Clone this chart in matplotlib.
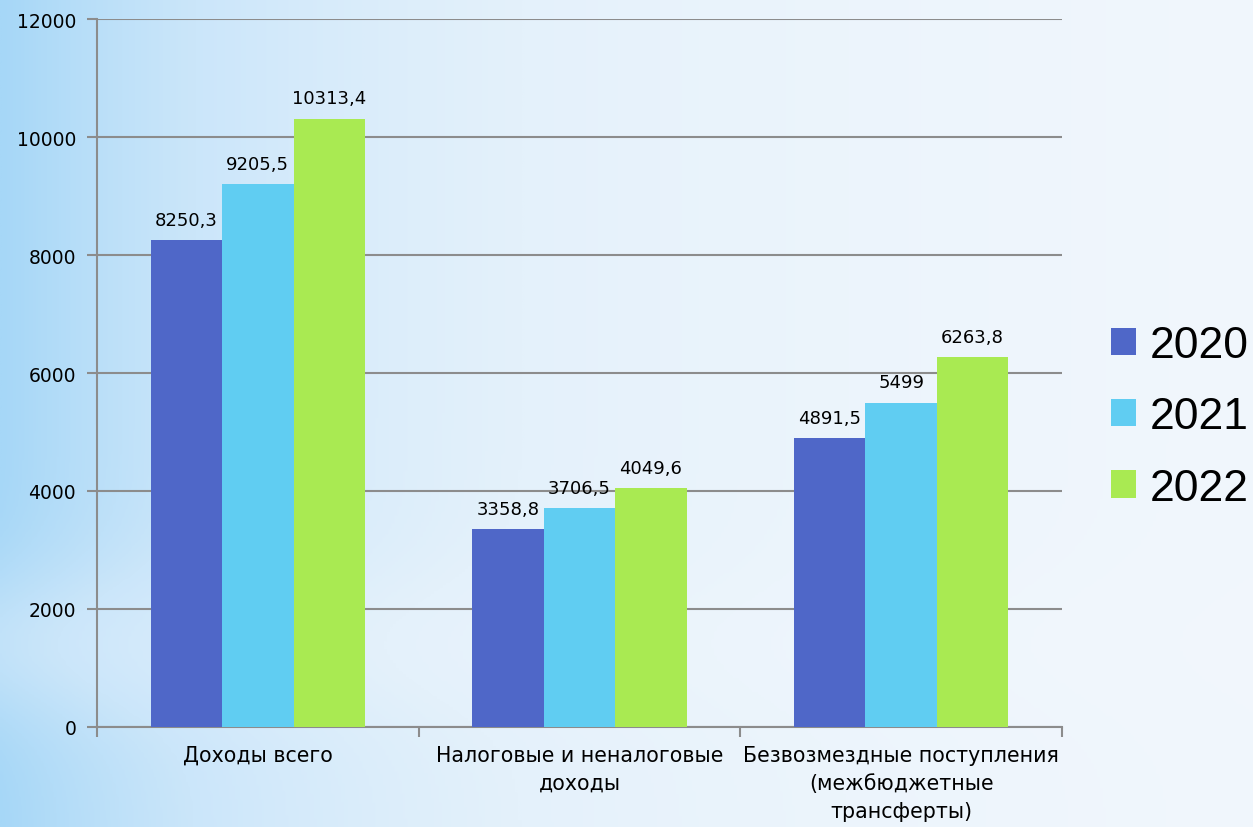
import numpy as np
import matplotlib.pyplot as plt
from matplotlib.colors import LinearSegmentedColormap

# Данные
categories = ['Доходы всего',
              'Налоговые и неналоговые\nдоходы',
              'Безвозмездные поступления\n(межбюджетные\nтрансферты)']
years = ['2020', '2021', '2022']
v2020 = [8250.3, 3358.8, 4891.5]
v2021 = [9205.5, 3706.5, 5499.0]
v2022 = [10313.4, 4049.6, 6263.8]
labels2020 = ['8250,3', '3358,8', '4891,5']
labels2021 = ['9205,5', '3706,5', '5499']
labels2022 = ['10313,4', '4049,6', '6263,8']

colors = ['#4F67C8', '#60CDF2', '#A9EA52']

fig = plt.figure(figsize=(12.53, 8.28), dpi=100)

# фон - голубой градиент
bg = fig.add_axes([0, 0, 1, 1], zorder=-10)
xx = np.linspace(0, 1, 400)
yy = np.linspace(0, 1, 300)
X, Y = np.meshgrid(xx, yy)
t = 1 - np.exp(-X / 0.38)
t = t + 0.25 * np.exp(-((Y - 0.78) / 0.1) ** 2) * (1 - t)
t = np.clip(t, 0, 1)
cmap = LinearSegmentedColormap.from_list('bg', ['#A6D7F7', '#CBE6FA', '#E4F1FB', '#F4F8FD'])
bg.imshow(t, cmap=cmap, aspect='auto', extent=[0, 1, 0, 1], origin='upper', vmin=0, vmax=1)
bg.axis('off')

ax = fig.add_axes([0.0774, 0.1208, 0.7702, 0.855])
ax.patch.set_alpha(0)

x = np.arange(len(categories))
w = 0.222
series = [(v2020, labels2020), (v2021, labels2021), (v2022, labels2022)]
handles = []
for i, (vals, labs) in enumerate(series):
    bars = ax.bar(x + (i - 1) * w, vals, width=w, color=colors[i], label=years[i], zorder=3)
    handles.append(bars)
    for b, lab in zip(bars, labs):
        ax.annotate(lab, (b.get_x() + b.get_width() / 2, b.get_height()),
                    xytext=(0, 8), textcoords='offset points',
                    ha='center', va='bottom', fontsize=13, color='black')

ax.set_xlim(-0.5, 2.5)
ax.set_ylim(0, 12000)
ax.set_yticks(range(0, 12001, 2000))
ax.tick_params(axis='y', labelsize=13.5, length=7, color='#8c8c8c', width=1.5, pad=8)
ax.set_xticks([-0.5, 0.5, 1.5, 2.5])
ax.set_xticklabels([])
ax.tick_params(axis='x', length=7, color='#8c8c8c', width=1.5)
ax.set_xticks(x, minor=True)
ax.set_xticklabels(categories, minor=True, fontsize=14.8, linespacing=1.5)
ax.tick_params(axis='x', which='minor', length=0, pad=13)

ax.grid(axis='y', color='#8c8c8c', linewidth=1.5, zorder=0)
for s in ['top', 'right']:
    ax.spines[s].set_visible(False)
for s in ['left', 'bottom']:
    ax.spines[s].set_color('#8c8c8c')
    ax.spines[s].set_linewidth(1.5)

fig.legend(handles=handles, labels=years, loc='center left',
           bbox_to_anchor=(1111 / 1253, 1 - 418 / 828), frameon=False,
           prop={'family': 'Liberation Sans', 'size': 32},
           handlelength=0.57, handleheight=0.57, handletextpad=0.3,
           labelspacing=0.68, borderpad=0, borderaxespad=0)

fig.savefig('out.png', dpi=100)
